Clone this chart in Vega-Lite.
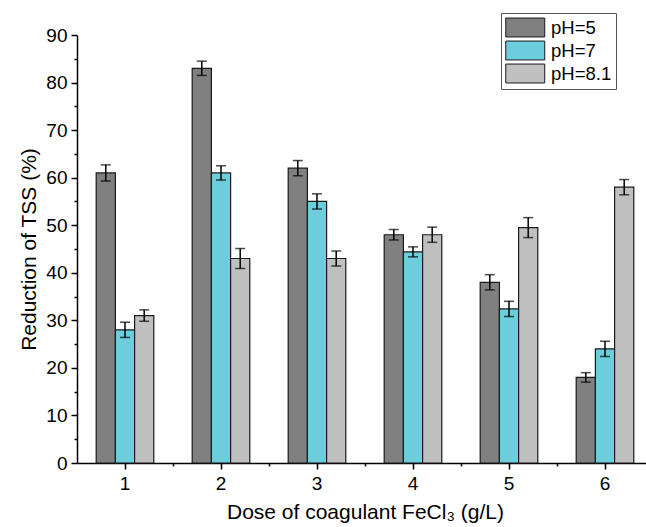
{
  "$schema": "https://vega.github.io/schema/vega-lite/v6.json",
  "width": 576,
  "height": 428,
  "autosize": "none",
  "padding": {"left": 77, "top": 35, "right": 0, "bottom": 64},
  "background": "white",
  "config": {
    "view": {"stroke": null},
    "font": "Liberation Sans",
    "axis": {
      "domainColor": "black",
      "domainWidth": 1.5,
      "tickColor": "black",
      "tickWidth": 1.5,
      "labelColor": "black",
      "titleColor": "black",
      "labelFont": "Liberation Sans",
      "titleFont": "Liberation Sans",
      "labelFontSize": 19,
      "titleFontSize": 21,
      "titleFontWeight": "normal",
      "grid": false
    }
  },
  "data": {
    "values": [
      {"dose": 1, "pH": "pH=5", "value": 61, "lo": 59.3, "hi": 62.7},
      {"dose": 1, "pH": "pH=7", "value": 28, "lo": 26.4, "hi": 29.6},
      {"dose": 1, "pH": "pH=8.1", "value": 31, "lo": 29.8, "hi": 32.2},
      {"dose": 2, "pH": "pH=5", "value": 83, "lo": 81.5, "hi": 84.5},
      {"dose": 2, "pH": "pH=7", "value": 61, "lo": 59.5, "hi": 62.5},
      {"dose": 2, "pH": "pH=8.1", "value": 43, "lo": 40.9, "hi": 45.1},
      {"dose": 3, "pH": "pH=5", "value": 62, "lo": 60.4, "hi": 63.6},
      {"dose": 3, "pH": "pH=7", "value": 55, "lo": 53.4, "hi": 56.6},
      {"dose": 3, "pH": "pH=8.1", "value": 43, "lo": 41.4, "hi": 44.6},
      {"dose": 4, "pH": "pH=5", "value": 48, "lo": 46.9, "hi": 49.1},
      {"dose": 4, "pH": "pH=7", "value": 44.4, "lo": 43.35, "hi": 45.45},
      {"dose": 4, "pH": "pH=8.1", "value": 48, "lo": 46.4, "hi": 49.6},
      {"dose": 5, "pH": "pH=5", "value": 38, "lo": 36.4, "hi": 39.6},
      {"dose": 5, "pH": "pH=7", "value": 32.4, "lo": 30.8, "hi": 34.0},
      {"dose": 5, "pH": "pH=8.1", "value": 49.5, "lo": 47.4, "hi": 51.6},
      {"dose": 6, "pH": "pH=5", "value": 18, "lo": 17.0, "hi": 19.0},
      {"dose": 6, "pH": "pH=7", "value": 24, "lo": 22.4, "hi": 25.6},
      {"dose": 6, "pH": "pH=8.1", "value": 58, "lo": 56.4, "hi": 59.6}
    ]
  },
  "layer": [
    {
      "encoding": {
        "x": {
          "field": "dose",
          "type": "ordinal",
          "scale": {"paddingInner": 0.4, "paddingOuter": 0.2},
          "axis": {
            "title": "Dose of coagulant FeCl₃ (g/L)",
            "labelAngle": 0,
            "tickSize": 6,
            "labelPadding": 5,
            "titlePadding": 8
          }
        },
        "xOffset": {
          "field": "pH",
          "type": "nominal",
          "sort": ["pH=5", "pH=7", "pH=8.1"],
          "scale": {"paddingInner": 0, "paddingOuter": 0}
        }
      },
      "layer": [
        {
          "mark": {"type": "bar", "stroke": "#1a1a1a", "strokeWidth": 1.2},
          "encoding": {
            "y": {
              "field": "value",
              "type": "quantitative",
              "scale": {"domain": [0, 90], "nice": false},
              "axis": {
                "title": "Reduction of TSS (%)",
                "values": [0, 10, 20, 30, 40, 50, 60, 70, 80, 90],
                "tickSize": 6,
                "labelPadding": 4,
                "titlePadding": 6
              }
            },
            "color": {
              "field": "pH",
              "type": "nominal",
              "scale": {
                "domain": ["pH=5", "pH=7", "pH=8.1"],
                "range": ["#808080", "#6ECDDD", "#C0C0C0"]
              },
              "legend": {
                "title": null,
                "orient": "none",
                "legendX": 424,
                "legendY": -22,
                "padding": 4,
                "strokeColor": "#555555",
                "fillColor": "white",
                "symbolType": "M-1,-0.97H3V0.97H-1Z",
                "symbolSize": 380,
                "symbolStrokeColor": "#1a1a1a",
                "symbolStrokeWidth": 1,
                "symbolOpacity": 1,
                "labelFontSize": 18.5,
                "labelFont": "Liberation Sans",
                "labelColor": "black",
                "labelOffset": 25,
                "rowPadding": 0
              }
            }
          }
        },
        {
          "mark": {"type": "rule", "color": "black", "strokeWidth": 1.5},
          "encoding": {
            "y": {"field": "lo", "type": "quantitative"},
            "y2": {"field": "hi"}
          }
        },
        {
          "mark": {"type": "tick", "color": "black", "size": 10, "thickness": 1.5, "orient": "horizontal"},
          "encoding": {"y": {"field": "lo", "type": "quantitative"}}
        },
        {
          "mark": {"type": "tick", "color": "black", "size": 10, "thickness": 1.5, "orient": "horizontal"},
          "encoding": {"y": {"field": "hi", "type": "quantitative"}}
        }
      ]
    },
    {
      "mark": {"type": "point", "opacity": 0},
      "encoding": {
        "x": {
          "field": "dose",
          "type": "quantitative",
          "scale": {"domain": [0.5, 6.5], "nice": false, "zero": false},
          "axis": {
            "orient": "bottom",
            "title": null,
            "values": [1.5, 2.5, 3.5, 4.5, 5.5, 6.5],
            "labels": false,
            "domain": false,
            "tickSize": 3
          }
        },
        "y": {
          "field": "value",
          "type": "quantitative",
          "scale": {"domain": [0, 90], "nice": false},
          "axis": {
            "orient": "left",
            "title": null,
            "values": [5, 15, 25, 35, 45, 55, 65, 75, 85],
            "labels": false,
            "domain": false,
            "tickSize": 3
          }
        }
      }
    }
  ],
  "resolve": {
    "scale": {"x": "independent", "y": "independent"},
    "axis": {"x": "independent", "y": "independent"}
  }
}
